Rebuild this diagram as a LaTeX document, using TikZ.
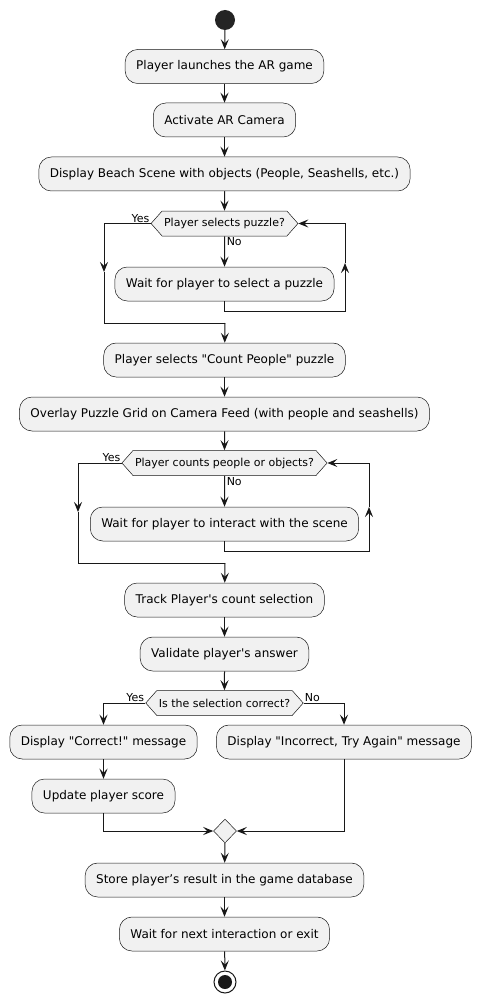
\documentclass[tikz,border=0pt]{standalone}
\usepackage{fontspec}
\setmainfont{DejaVu Sans}[Ligatures=TeXOff]
\usetikzlibrary{arrows.meta,shapes.symbols,shapes.geometric}
\definecolor{boxfill}{HTML}{F1F1F1}
\definecolor{ink}{HTML}{181818}

\begin{document}
\begin{tikzpicture}[x=1pt,y=1pt,yscale=-1,
  act/.style={draw=ink,fill=boxfill,line width=0.5pt,rounded corners=12.5pt,minimum height=34pt,inner xsep=11pt,font=\fontsize{12}{14}\selectfont},
  cond/.style={signal,signal to=east and west,signal pointer angle=97,draw=ink,fill=boxfill,line width=0.5pt,minimum height=25pt,inner xsep=2pt,inner ysep=1pt,font=\fontsize{11}{13}\selectfont},
  lbl/.style={font=\fontsize{11}{13}\selectfont,inner sep=0.75pt},
  flow/.style={draw=ink,line width=1pt,-{Stealth[length=10pt,width=8pt,inset=4pt]}},
  wire/.style={draw=ink,line width=1pt}]
\useasboundingbox (0,0) rectangle (482,1003);

% Start / end
\node (start) [circle,fill=ink!95!white,minimum size=20pt,inner sep=0] at (225,20) {};
\node (stop) [circle,draw=ink,line width=1pt,fill=white,minimum size=22pt,inner sep=0] at (225,982) {};
\fill[ink] (stop.center) circle (7);

% Activities
\node (a1) [act] at (224.5,66.5) {Player launches the AR game};
\node (a2) [act] at (224.5,120) {Activate AR Camera};
\node (a3) [act] at (224.5,174) {Display Beach Scene with objects (People, Seashells, etc.)};
\node (q1) [cond] at (224.5,223.5) {Player selects puzzle?};
\node (w1) [act] at (224.5,284) {Wait for player to select a puzzle};
\node (a4) [act] at (224.5,360) {Player selects "Count People" puzzle};
\node (a5) [act] at (224.5,414) {Overlay Puzzle Grid on Camera Feed (with people and seashells)};
\node (q2) [cond] at (224.5,463) {Player counts people or objects?};
\node (w2) [act] at (224.5,524) {Wait for player to interact with the scene};
\node (a6) [act] at (224.5,600) {Track Player's count selection};
\node (a7) [act] at (224.5,654) {Validate player's answer};
\node (q3) [cond] at (224.5,703) {Is the selection correct?};
\node (ok) [act] at (103.5,742) {Display "Correct!" message};
\node (bad) [act] at (344,742) {Display "Incorrect, Try Again" message};
\node (upd) [act] at (103.5,796) {Update player score};
\node (merge) [diamond,draw=ink,fill=boxfill,line width=0.5pt,minimum width=23pt,minimum height=24pt,inner sep=0] at (225,831) {};
\node (store) [act] at (224.5,880) {Store player’s result in the game database};
\node (wnext) [act] at (224.5,934) {Wait for next interaction or exit};

% Bends
\coordinate (y1) at (104,272);
\coordinate (j1) at (225,323);
\coordinate (r1) at (345,263);
\coordinate (y2) at (78,512);
\coordinate (j2) at (225,563);
\coordinate (r2) at (369,507);

% Main line
\draw[flow] (start) -- (a1);
\draw[flow] (a1) -- (a2);
\draw[flow] (a2) -- (a3);
\draw[flow] (a3) -- (q1);

% First loop
\draw[flow] (q1) -- node[lbl,pos=0,anchor=north west,xshift=1pt]{No} (w1);
\draw[flow] (w1.south) -- ++(0,10) -| (r1);
\draw[flow] (r1) |- (q1.east);
\draw[flow] (q1.west) node[lbl,anchor=south east]{Yes} -| (y1);
\draw[wire] (y1) |- (j1);
\draw[flow] (j1) -- (a4);
\draw[flow] (a4) -- (a5);
\draw[flow] (a5) -- (q2);

% Second loop
\draw[flow] (q2) -- node[lbl,pos=0,anchor=north west,xshift=1pt]{No} (w2);
\draw[flow] (w2.south) -- ++(0,10) -| (r2);
\draw[flow] (r2) |- (q2.east);
\draw[flow] (q2.west) node[lbl,anchor=south east]{Yes} -| (y2);
\draw[wire] (y2) |- (j2);
\draw[flow] (j2) -- (a6);
\draw[flow] (a6) -- (a7);
\draw[flow] (a7) -- (q3);

% Check answer
\draw[flow] (q3.west) node[lbl,anchor=south east]{Yes} -| (ok);
\draw[flow] (q3.east) node[lbl,anchor=south west]{No} -| (bad);
\draw[flow] (ok) -- (upd);
\draw[flow] (upd.south) |- (merge.west);
\draw[flow] (bad.south) |- (merge.east);
\draw[flow] (merge) -- (store);
\draw[flow] (store) -- (wnext);
\draw[flow] (wnext) -- (stop);
\end{tikzpicture}
\end{document}
